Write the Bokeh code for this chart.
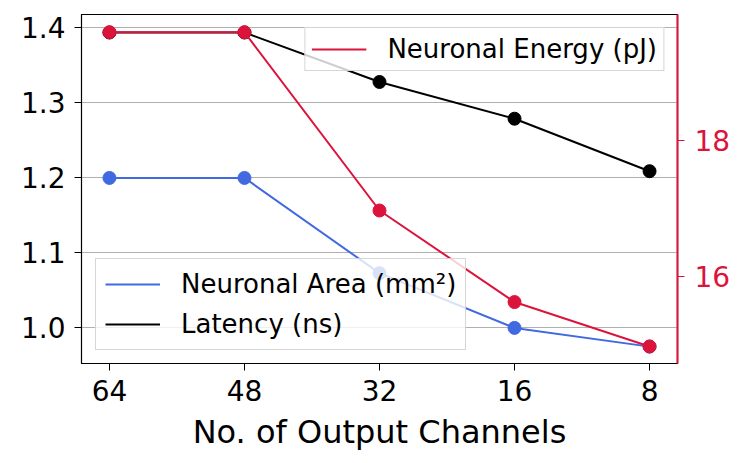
from bokeh.plotting import figure
from bokeh.models import (Range1d, LinearAxis, FixedTicker, NumeralTickFormatter,
                          Legend, LegendItem)
from bokeh.embed import file_html
from bokeh.resources import INLINE

channels = ["64", "48", "32", "16", "8"]
area = [1.2, 1.2, 1.073, 1.0, 0.975]
latency = [1.394, 1.394, 1.328, 1.279, 1.209]
energy = [19.58, 19.58, 16.97, 15.63, 14.98]
left_ticks = [1.0, 1.1, 1.2, 1.3, 1.4]
right_ticks = [14, 16, 18, 20]

FONT = "DejaVu Sans"
BLUE = "#4169e1"
RED = "#dc143c"

xs = list(range(len(channels)))

p = figure(width=745, height=461, output_backend="svg", toolbar_location=None,
           x_range=Range1d(-0.207, 4.207), y_range=Range1d(0.9525, 1.418),
           min_border_left=81, min_border_right=68, min_border_top=14,
           min_border_bottom=98)
p.extra_y_ranges = {"energy": Range1d(14.73, 19.84)}

p.outline_line_color = "black"
p.outline_line_width = 1.2
p.xgrid.visible = False
p.ygrid.grid_line_color = "#b0b0b0"
p.ygrid.grid_line_width = 1

l_area = p.line(xs, area, line_color=BLUE, line_width=2)
p.scatter(xs, area, size=13, color=BLUE)
l_lat = p.line(xs, latency, line_color="black", line_width=2)
p.scatter(xs, latency, size=13, color="black")
l_en = p.line(xs, energy, line_color=RED, line_width=2, y_range_name="energy")
p.scatter(xs, energy, size=13, color=RED, y_range_name="energy")

for ax in (p.xaxis[0], p.yaxis[0]):
    ax.major_label_text_font = FONT
    ax.major_label_text_font_size = "28px"
    ax.major_label_text_color = "black"
    ax.major_tick_out = 7
    ax.major_tick_in = 0
    ax.minor_tick_out = 0
    ax.minor_tick_in = 0
    ax.axis_line_color = "black"
    ax.major_tick_line_color = "black"

p.xaxis.ticker = FixedTicker(ticks=xs)
p.xaxis.major_label_overrides = {i: c for i, c in zip(xs, channels)}
p.xaxis.major_label_standoff = 9
p.xaxis.axis_label = "No. of Output Channels"
p.xaxis.axis_label_text_font = FONT
p.xaxis.axis_label_text_font_size = "32px"
p.xaxis.axis_label_text_font_style = "normal"
p.xaxis.axis_label_text_color = "black"
p.xaxis.axis_label_standoff = 9

p.yaxis.ticker = FixedTicker(ticks=left_ticks)
p.yaxis.formatter = NumeralTickFormatter(format="0.0")
p.yaxis.major_label_standoff = 9

rax = LinearAxis(y_range_name="energy", ticker=FixedTicker(ticks=right_ticks))
rax.axis_line_color = RED
rax.axis_line_width = 2
rax.major_tick_line_color = RED
rax.major_tick_out = 7
rax.major_tick_in = 0
rax.minor_tick_out = 0
rax.minor_tick_in = 0
rax.major_label_text_color = RED
rax.major_label_text_font = FONT
rax.major_label_text_font_size = "28px"
rax.major_label_standoff = 10
p.add_layout(rax, "right")

def style(lg):
    lg.label_text_font = FONT
    lg.label_text_font_size = "26px"
    lg.label_text_color = "black"
    lg.glyph_width = 55
    lg.label_standoff = 21
    lg.background_fill_color = "white"
    lg.background_fill_alpha = 0.8
    lg.border_line_color = "#cccccc"
    lg.border_line_alpha = 0.8
    lg.border_line_width = 1.2

leg1 = Legend(items=[LegendItem(label="Neuronal Energy (pJ)", renderers=[l_en])],
              location="top_right", margin=13, padding=6,
              label_height=30, glyph_height=30, spacing=0)
style(leg1)
leg2 = Legend(items=[LegendItem(label="Neuronal Area (mm²)", renderers=[l_area]),
                     LegendItem(label="Latency (ns)", renderers=[l_lat])],
              location=(14, 13), padding=9, spacing=8,
              label_height=32, glyph_height=32)
style(leg2)
p.add_layout(leg1, "center")
p.add_layout(leg2, "center")

open("out.html", "w").write(file_html(p, INLINE))
